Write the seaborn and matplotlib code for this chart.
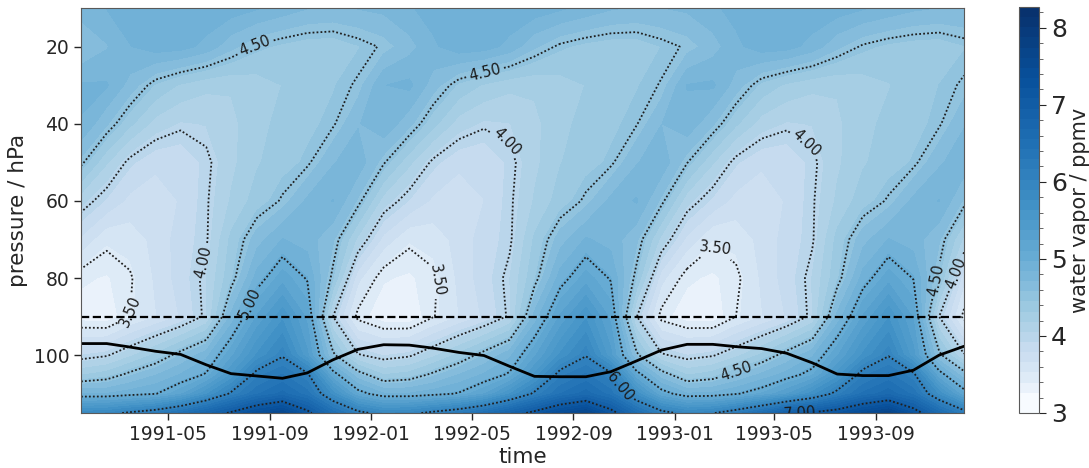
import numpy as np
import pandas as pd
import matplotlib
matplotlib.use("Agg")
import matplotlib.pyplot as plt
import matplotlib.dates as mdates
from matplotlib.colors import PowerNorm
from matplotlib.ticker import MultipleLocator
import seaborn as sns

# ---------------- data ----------------
months = pd.date_range("1991-01-01", "1993-12-01", freq="MS") + pd.Timedelta(days=15)
pressure_levels = [10, 20, 30, 40, 50, 60, 70, 80, 90, 100, 105, 110, 115]

wv_010 = [4.78, 4.85, 4.90, 4.94, 4.96, 4.95, 4.92, 4.86, 4.79, 4.72, 4.70, 4.72,
          4.75, 4.83, 4.90, 4.95, 4.96, 4.95, 4.93, 4.87, 4.80, 4.73, 4.70, 4.71,
          4.74, 4.82, 4.89, 4.94, 4.96, 4.95, 4.92, 4.86, 4.80, 4.74, 4.71, 4.72]
wv_020 = [4.58, 4.70, 4.84, 4.92, 4.90, 4.80, 4.62, 4.48, 4.42, 4.38, 4.37, 4.44,
          4.52, 4.66, 4.82, 4.93, 4.91, 4.80, 4.60, 4.47, 4.41, 4.38, 4.38, 4.45,
          4.52, 4.65, 4.81, 4.92, 4.90, 4.79, 4.61, 4.48, 4.42, 4.39, 4.38, 4.44]
wv_030 = [4.86, 4.86, 4.66, 4.43, 4.30, 4.22, 4.20, 4.25, 4.32, 4.38, 4.44, 4.52,
          4.84, 4.88, 4.64, 4.42, 4.30, 4.22, 4.21, 4.26, 4.32, 4.38, 4.44, 4.51,
          4.85, 4.87, 4.65, 4.41, 4.29, 4.22, 4.20, 4.25, 4.31, 4.38, 4.45, 4.52]
wv_040 = [4.84, 4.60, 4.35, 4.13, 4.04, 4.06, 4.15, 4.27, 4.36, 4.42, 4.48, 4.70,
          4.82, 4.62, 4.36, 4.12, 4.03, 4.05, 4.15, 4.28, 4.36, 4.42, 4.49, 4.71,
          4.81, 4.60, 4.34, 4.12, 4.04, 4.06, 4.16, 4.28, 4.35, 4.41, 4.48, 4.70]
wv_050 = [4.54, 4.20, 3.95, 3.82, 3.81, 3.96, 4.15, 4.30, 4.40, 4.47, 4.70, 4.80,
          4.52, 4.22, 3.96, 3.82, 3.80, 3.95, 4.15, 4.31, 4.40, 4.47, 4.70, 4.81,
          4.51, 4.20, 3.94, 3.81, 3.81, 3.96, 4.16, 4.30, 4.39, 4.46, 4.69, 4.80]
wv_060 = [4.10, 3.90, 3.75, 3.72, 3.80, 3.98, 4.20, 4.38, 4.52, 4.74, 4.85, 4.56,
          4.12, 3.91, 3.76, 3.71, 3.79, 3.97, 4.20, 4.38, 4.53, 4.75, 4.86, 4.55,
          4.10, 3.89, 3.74, 3.72, 3.80, 3.98, 4.21, 4.39, 4.52, 4.75, 4.85, 4.56]
wv_070 = [3.76, 3.55, 3.58, 3.70, 3.85, 3.98, 4.35, 4.65, 4.85, 4.78, 4.60, 4.15,
          3.74, 3.54, 3.58, 3.71, 3.85, 3.97, 4.34, 4.65, 4.86, 4.79, 4.61, 4.14,
          3.75, 3.53, 3.57, 3.70, 3.84, 3.98, 4.36, 4.66, 4.85, 4.78, 4.60, 4.15]
wv_080 = [3.42, 3.38, 3.48, 3.68, 3.85, 4.05, 4.42, 4.90, 5.18, 4.98, 4.45, 3.70,
          3.41, 3.37, 3.47, 3.69, 3.86, 4.05, 4.43, 4.91, 5.17, 4.98, 4.44, 3.71,
          3.42, 3.37, 3.46, 3.68, 3.85, 4.06, 4.42, 4.90, 5.18, 4.99, 4.45, 3.70]
wv_090 = [3.33, 3.30, 3.50, 3.65, 3.80, 4.04, 4.75, 5.25, 5.60, 5.20, 4.00, 3.45,
          3.31, 3.29, 3.49, 3.66, 3.81, 4.03, 4.76, 5.26, 5.61, 5.20, 4.01, 3.44,
          3.32, 3.30, 3.50, 3.65, 3.80, 4.05, 4.75, 5.25, 5.62, 5.22, 4.00, 3.45]
wv_100 = [3.92, 3.98, 4.15, 4.35, 4.58, 4.80, 5.20, 5.65, 5.97, 5.40, 4.55, 4.02,
          3.91, 3.97, 4.15, 4.36, 4.58, 4.81, 5.21, 5.66, 5.98, 5.41, 4.55, 4.03,
          3.92, 3.98, 4.14, 4.35, 4.59, 4.82, 5.22, 5.66, 5.98, 5.42, 4.56, 4.02]
wv_105 = [4.30, 4.38, 4.55, 4.70, 4.85, 5.02, 5.50, 6.10, 6.30, 6.05, 5.10, 4.60,
          4.31, 4.37, 4.54, 4.71, 4.86, 5.03, 5.52, 6.11, 6.31, 6.06, 5.10, 4.61,
          4.30, 4.38, 4.56, 4.74, 4.90, 5.08, 5.55, 6.12, 6.32, 6.06, 5.11, 4.60]
wv_110 = [4.85, 4.85, 4.92, 4.99, 5.20, 5.60, 6.05, 6.40, 6.60, 6.35, 5.70, 5.10,
          4.86, 4.86, 4.93, 5.02, 5.22, 5.62, 6.06, 6.42, 6.62, 6.36, 5.71, 5.11,
          4.86, 4.88, 4.98, 5.12, 5.35, 5.70, 6.10, 6.45, 6.64, 6.38, 5.72, 5.12]
wv_115 = [5.85, 5.90, 6.05, 6.20, 6.45, 6.75, 7.05, 7.40, 7.60, 7.10, 6.50, 6.10,
          5.88, 5.92, 6.08, 6.25, 6.50, 6.80, 7.10, 7.45, 7.65, 7.15, 6.55, 6.12,
          5.90, 5.98, 6.20, 6.55, 6.95, 7.05, 7.20, 7.50, 7.70, 7.20, 6.60, 6.15]

# cold-point (solid line) pressure, hPa
tropopause = [97.0, 97.0, 97.9, 99.0, 99.8, 102.5, 104.8, 105.4, 106.0, 104.6, 101.2, 98.5,
              97.3, 97.4, 98.2, 99.3, 100.1, 102.9, 105.5, 105.6, 105.6, 104.3, 101.5, 98.7,
              97.2, 97.2, 97.8, 98.3, 99.5, 102.0, 104.9, 105.3, 105.3, 103.9, 100.0, 97.7]
reference_level = 90  # dashed line, hPa

contour_levels = [3.5, 4.0, 4.5, 5.0, 6.0, 7.0]
cbar_range = (3.0, 8.27)

# label anchor points (date, pressure)
label_points = [("1991-08-12", 19.2), ("1992-05-16", 25.7), ("1992-06-14", 44.0),
                ("1993-06-16", 42.5), ("1991-06-12", 75.8), ("1991-03-18", 88.7),
                ("1991-08-16", 87.4), ("1992-03-20", 80.5), ("1993-02-20", 72.0),
                ("1992-10-18", 109.4), ("1993-03-12", 101.5), ("1993-05-22", 114.5),
                ("1993-11-01", 80.0), ("1993-11-28", 78.0)]

# ---------------- plot ----------------
sns.set_style("ticks", {"axes.edgecolor": "0.3", "xtick.color": "0.2", "ytick.color": "0.2"})
plt.rcParams["font.family"] = ["DejaVu Sans"]

field = np.array([wv_010, wv_020, wv_030, wv_040, wv_050, wv_060, wv_070,
                  wv_080, wv_090, wv_100, wv_105, wv_110, wv_115])
tnum = mdates.date2num(months.to_pydatetime())

fig = plt.figure(figsize=(10.89, 4.68), dpi=100)
ax = fig.add_axes([81 / 1089, 1 - 413 / 468, (964 - 81) / 1089, (413 - 8) / 468])
cax = fig.add_axes([1019 / 1089, 1 - 413 / 468, 20 / 1089, (413 - 7) / 468])

norm = PowerNorm(gamma=0.65, vmin=3.25, vmax=cbar_range[1])
cf = ax.contourf(tnum, pressure_levels, field,
                 levels=np.linspace(cbar_range[0], cbar_range[1], 41),
                 cmap="Blues", norm=norm)
cs = ax.contour(tnum, pressure_levels, field, levels=contour_levels,
                colors="0.12", linewidths=1.3)
cs.set_linestyle((0, (1.0, 1.2)))

sns.lineplot(x=tnum, y=tropopause, color="black", linewidth=2.0, ax=ax)
ax.axhline(reference_level, color="black", linestyle="--", linewidth=1.6)

ax.set_xlim(tnum[0], tnum[-1])
ax.set_ylim(115, 10)
ax.xaxis.set_major_locator(mdates.MonthLocator(bymonth=[1, 5, 9]))
ax.xaxis.set_major_formatter(mdates.DateFormatter("%Y-%m"))
ax.yaxis.set_major_locator(MultipleLocator(20))
ax.tick_params(labelsize=13.5, length=5, width=1, colors="0.15")
ax.set_xlabel("time", fontsize=15.5, labelpad=2)
ax.set_ylabel("pressure / hPa", fontsize=15.5, labelpad=4)
for s in ax.spines.values():
    s.set_color("0.35")

manual = [(mdates.date2num(pd.Timestamp(d)), p) for d, p in label_points]
ax.clabel(cs, fmt="%.2f", fontsize=10.5, colors="0.1", inline=True,
          inline_spacing=3, manual=manual)

cb = fig.colorbar(cf, cax=cax, ticks=range(3, 9))
cb.ax.yaxis.set_minor_locator(MultipleLocator(0.2))
cb.ax.tick_params(which="major", labelsize=18, length=5, colors="0.15")
cb.ax.tick_params(which="minor", length=3, colors="0.3")
cb.outline.set_edgecolor("0.35")
cb.set_label("water vapor / ppmv", fontsize=15, labelpad=2)

fig.savefig("out.png", dpi=100)
